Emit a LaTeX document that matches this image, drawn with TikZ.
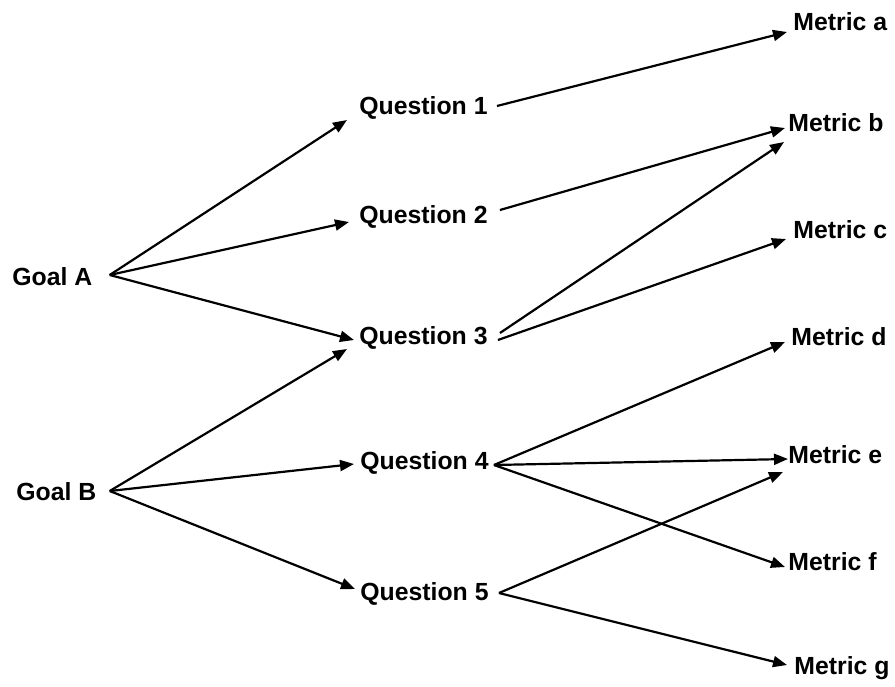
\documentclass[tikz,border=0pt]{standalone}
\usepackage{fontspec}
\setmainfont{Liberation Sans}
\usetikzlibrary{arrows.meta,calc}

\begin{document}
\begin{tikzpicture}[x=0.5pt,y=-0.5pt,
  lbl/.style={anchor=west,inner sep=0pt,font=\fontsize{12.4}{14}\selectfont\bfseries},
  link/.style={-{Triangle[length=7pt,width=5.5pt]},line width=1.1pt}]
\useasboundingbox (0,0) rectangle (895,686);
\node[lbl] (ga) at (12,277) {Goal A};
\node[lbl] (gb) at (16,492) {Goal B};
\node[lbl] (q1) at (359,108) {Question 1};
\node[lbl] (q2) at (359,217) {Question 2};
\node[lbl] (q3) at (359,338) {Question 3};
\node[lbl] (q4) at (360,463) {Question 4};
\node[lbl] (q5) at (360,594) {Question 5};
\node[lbl] (ma) at (793,22) {Metric a};
\node[lbl] (mb) at (788,123) {Metric b};
\node[lbl] (mc) at (793,230) {Metric c};
\node[lbl] (md) at (791,337) {Metric d};
\node[lbl] (me) at (788,455) {Metric e};
\node[lbl] (mf) at (788,562) {Metric f};
\node[lbl] (mg) at (794,668) {Metric g};
\draw[link] ($(ga.east)+(17,-2)$) -- ($(q1.west)+(-12,12)$);
\draw[link] ($(ga.east)+(17,-2)$) -- ($(q2.west)+(-10,5)$);
\draw[link] ($(ga.east)+(17,-2)$) -- ($(q3.west)+(-5,2)$);
\draw[link] ($(gb.east)+(13,-1)$) -- ($(q3.west)+(-12,11)$);
\draw[link] ($(gb.east)+(13,-1)$) -- ($(q4.west)+(-6,1)$);
\draw[link] ($(gb.east)+(13,-1)$) -- ($(q5.west)+(-5,-5)$);
\draw[link] ($(q1.east)+(9,-2)$) -- ($(ma.west)+(-6,10)$);
\draw[link] ($(q2.east)+(12,-7)$) -- ($(mb.west)+(-3,5)$);
\draw[link] ($(q3.east)+(12,-5)$) -- ($(mb.west)+(-4,19)$);
\draw[link] ($(q3.east)+(10,2)$) -- ($(mc.west)+(-7,9)$);
\draw[link] ($(q4.east)+(5,2)$) -- ($(md.west)+(-6,5)$);
\draw[link] ($(q4.east)+(5,2)$) -- ($(me.west)+(0,4)$);
\draw[link] ($(q4.east)+(5,2)$) -- ($(mf.west)+(-3,5)$);
\draw[link] ($(q5.east)+(10,-1)$) -- ($(me.west)+(-5,17)$);
\draw[link] ($(q5.east)+(10,-1)$) -- ($(mg.west)+(-7,-3)$);
\end{tikzpicture}
\end{document}
